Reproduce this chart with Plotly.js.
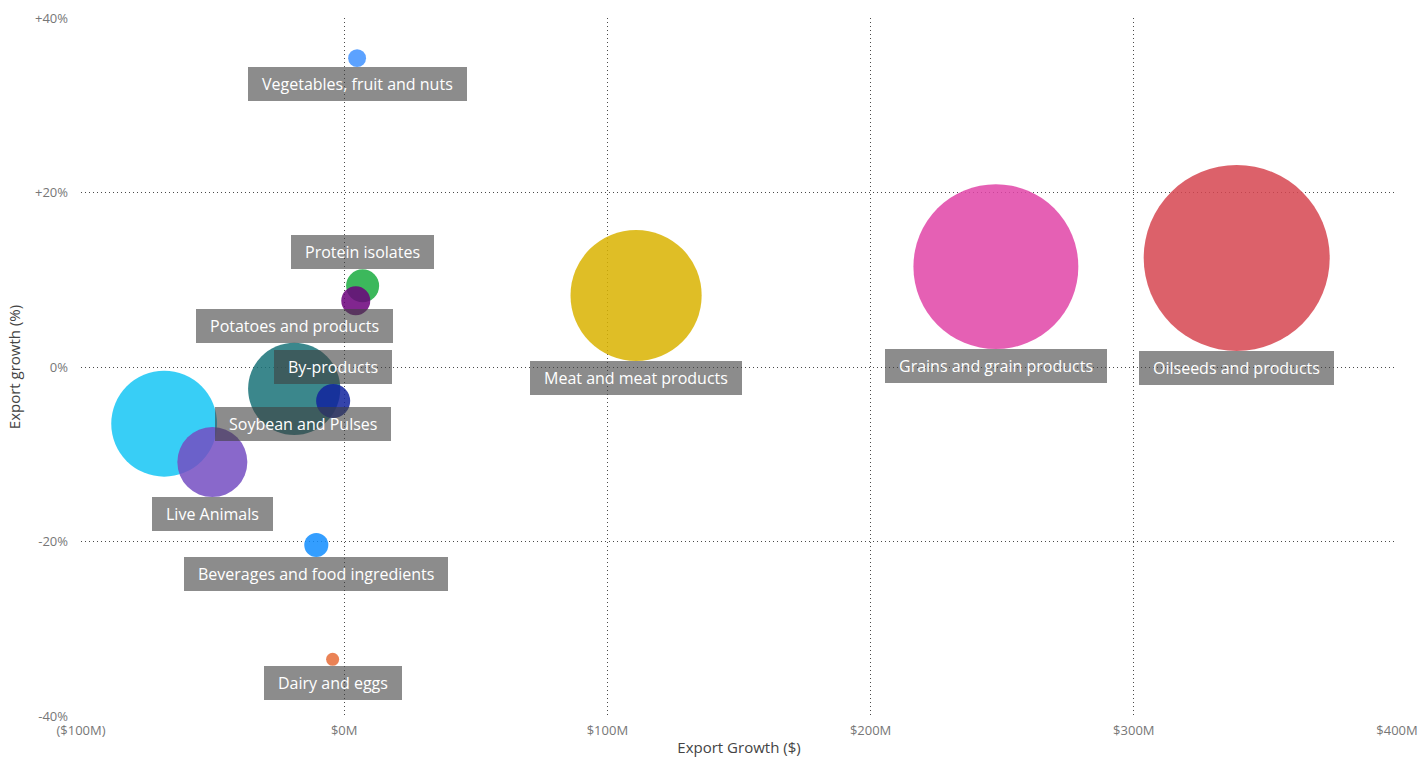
<!DOCTYPE html>
<html>
<head>
<meta charset="utf-8">
<script src="https://cdn.plot.ly/plotly-3.0.1.min.js"></script>
<style>
  html, body { margin: 0; padding: 0; background: #fff; }
  #chart { width: 1419px; height: 759px; }
</style>
</head>
<body>
<div id="chart"></div>
<script>
// ---- data ----
var categories = [
  "Beverages and food ingredients", "By-products", "Dairy and eggs", "Fats and oils",
  "Grains and grain products", "Live Animals", "Meat and meat products", "Oilseeds and products",
  "Potatoes and products", "Protein isolates", "Soybean and Pulses", "Vegetables, fruit and nuts"
];
var exportGrowthM = [-10.6, -4.2, -4.4, 4.4, 247.6, -50.1, 110.9, 339.1, -19.0, 7.0, -68.4, 4.9];
var exportGrowthPct = [-20.4, -3.9, -33.5, 7.6, 11.5, -10.9, 8.2, 12.5, -2.5, 9.3, -6.5, 35.4];
var exportValue = [5.8, 11.6, 1.7, 8.4, 272, 49, 172, 346, 85, 10.9, 112, 3.2];
var colors = ["#118DFF", "#12239E", "#E66C37", "#6B007B", "#E044A7", "#744EC2",
              "#D9B300", "#D64550", "#197278", "#1AAB40", "#15C6F4", "#4092FF"];
var labelPlacement = ["below", "above", "below", "none", "below", "below",
                      "below", "below", "above", "above", "right", "below"];
var xTickVals = [-100, 0, 100, 200, 300, 400];
var xTickText = ["($100M)", "$0M", "$100M", "$200M", "$300M", "$400M"];
var yTickVals = [-40, -20, 0, 20, 40];
var yTickText = ["-40%", "-20%", "0%", "+20%", "+40%"];

// ---- build ----
var SIZEREF = 0.02;
function radiusPx(v) { return Math.sqrt(v / (2 * SIZEREF)); }

// draw larger bubbles first
var order = categories.map(function (_, i) { return i; })
  .sort(function (a, b) { return exportValue[b] - exportValue[a]; });
function pick(arr) { return order.map(function (i) { return arr[i]; }); }

var trace = {
  type: "scatter",
  mode: "markers",
  x: pick(exportGrowthM),
  y: pick(exportGrowthPct),
  text: pick(categories),
  hovertemplate: "%{text}<br>%{x:.1f}M<br>%{y:.1f}%<extra></extra>",
  marker: {
    size: pick(exportValue),
    sizemode: "area",
    sizeref: SIZEREF,
    color: pick(colors),
    opacity: 0.85,
    line: { width: 0 }
  }
};

var annotations = [];
categories.forEach(function (name, i) {
  var p = labelPlacement[i];
  if (p === "none") return;
  var r = radiusPx(exportValue[i]);
  var a = {
    x: exportGrowthM[i], y: exportGrowthPct[i], xref: "x", yref: "y",
    text: "\u2002" + name + "\u2002", showarrow: false,
    font: { family: "Open Sans, Noto Sans, sans-serif", size: 16, color: "#ffffff" },
    bgcolor: "rgba(64,64,64,0.6)", borderpad: 6, borderwidth: 0
  };
  if (p === "below") { a.yanchor = "top"; a.xanchor = "center"; a.yshift = -r; }
  else if (p === "above") { a.yanchor = "bottom"; a.xanchor = "center"; a.yshift = r; }
  else if (p === "right") { a.yanchor = "middle"; a.xanchor = "left"; a.xshift = r - 2; }
  annotations.push(a);
});

var gridStyle = { gridcolor: "#4a4a4a", gridwidth: 1, griddash: "1px,3px", zeroline: false, showline: false };

var layout = {
  width: 1419, height: 759,
  margin: { l: 81, r: 22, t: 18, b: 43 },
  paper_bgcolor: "#ffffff", plot_bgcolor: "#ffffff",
  showlegend: false,
  font: { family: "Open Sans, Noto Sans, sans-serif", color: "#777" },
  xaxis: Object.assign({
    range: [-100, 400], tickmode: "array", tickvals: xTickVals, ticktext: xTickText,
    tickfont: { size: 13, color: "#777" }, ticks: "", ticklabelstandoff: 5,
    title: { text: "Export Growth ($)", font: { size: 15, color: "#444" }, standoff: 4 }
  }, gridStyle),
  yaxis: Object.assign({
    range: [-40, 40], tickmode: "array", tickvals: yTickVals, ticktext: yTickText,
    tickfont: { size: 13, color: "#777" }, ticks: "", ticklabelstandoff: 12,
    title: { text: "Export growth (%)", font: { size: 15, color: "#444" }, standoff: 10 }
  }, gridStyle),
  annotations: annotations
};

Plotly.newPlot("chart", [trace], layout, { displayModeBar: false, responsive: false });
</script>
</body>
</html>
